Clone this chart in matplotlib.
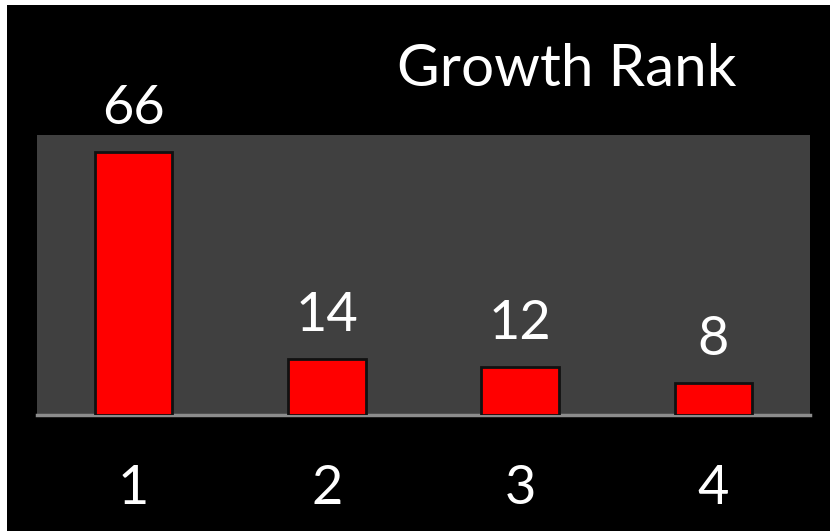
import matplotlib.pyplot as plt
from matplotlib.patches import Rectangle

# chart data
ranks = ['1', '2', '3', '4']
counts = [66, 14, 12, 8]

W, H = 830, 531
fig = plt.figure(figsize=(W / 100, H / 100), dpi=100)
fig.patch.set_facecolor('black')
# thin white strips on the left and top edges
fig.patches.append(Rectangle((0, 0), 7 / W, 1, transform=fig.transFigure,
                             facecolor='white', edgecolor='none'))
fig.patches.append(Rectangle((0, 1 - 5 / H), 1, 5 / H, transform=fig.transFigure,
                             facecolor='white', edgecolor='none'))

ax = fig.add_axes([37 / W, (H - 415) / H, (810 - 37) / W, (415 - 135) / H])
ax.set_facecolor('#404040')

x = range(len(ranks))
bars = ax.bar(x, counts, width=0.4, color='#ff0000', edgecolor='#111111',
              linewidth=2, zorder=3)

font = 'Lato'
for b, v in zip(bars, counts):
    ax.annotate(str(v), (b.get_x() + b.get_width() / 2, b.get_height()),
                xytext=(0, 14), textcoords='offset points', ha='center', va='bottom',
                color='white', fontsize=39, family=font, annotation_clip=False)

ax.set_xlim(-0.5, 3.5)
ax.set_ylim(0, 70.3)
ax.set_xticks(list(x))
ax.set_xticklabels(ranks, color='white', fontsize=39, family=font)
ax.tick_params(axis='x', length=0, pad=35)
ax.set_yticks([])
for s in ['top', 'left', 'right']:
    ax.spines[s].set_visible(False)
ax.spines['bottom'].set_color('#8c8c8c')
ax.spines['bottom'].set_linewidth(2.5)

fig.text(567 / W, (H - 70) / H, 'Growth Rank', color='white', fontsize=42,
         family=font, ha='center', va='center')

fig.savefig('out.png', dpi=100, facecolor=fig.get_facecolor())
